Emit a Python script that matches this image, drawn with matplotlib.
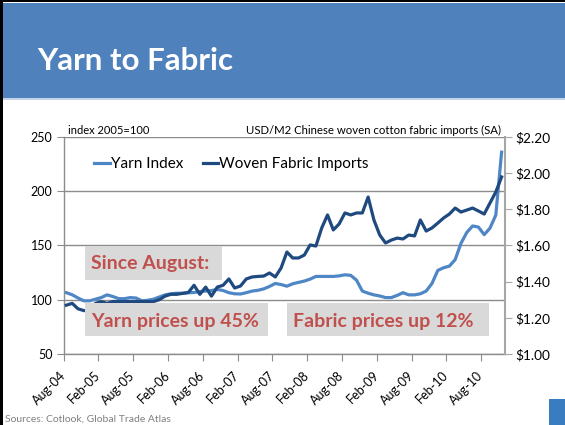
import matplotlib
matplotlib.use('Agg')
import matplotlib.pyplot as plt
from matplotlib.patches import Rectangle
from matplotlib.lines import Line2D
import numpy as np

plt.rcParams['font.family'] = ['Lato', 'DejaVu Sans']

# ---------------- data ----------------
tick_labels = ["Aug-04", "Feb-05", "Aug-05", "Feb-06", "Aug-06", "Feb-07", "Aug-07",
               "Feb-08", "Aug-08", "Feb-09", "Aug-09", "Feb-10", "Aug-10"]

# Yarn index (index 2005=100), monthly Aug-04 .. Nov-10
yarn_index = [106.5, 104.6, 101.6, 99, 99, 100.5, 102, 104.5, 103, 101,
              101, 102, 101.6, 99, 99.5, 100.5, 102.5, 104.5, 105.5, 106,
              106, 106.5, 106.7, 107.5, 108, 108.5, 109.5, 108.5, 106.5, 105.5,
              105.3, 106.5, 108, 108.7, 110, 112.3, 115, 114, 112.5, 114.7,
              116, 117.2, 119, 121.5, 121.5, 121.5, 121.5, 122, 123, 122.5,
              118, 108, 106, 104.5, 103.5, 102, 102, 104, 106.5, 104.5,
              104.5, 105.5, 108, 115, 127, 129.5, 131, 137, 152, 162,
              168, 167, 160, 166, 178, 236]

# Woven fabric imports, USD/M2
fabric_usd = [1.27, 1.28, 1.25, 1.24, 1.24, 1.28, 1.29, 1.28, 1.29, 1.29,
              1.29, 1.29, 1.29, 1.29, 1.29, 1.29, 1.30, 1.32, 1.33, 1.33,
              1.335, 1.34, 1.38, 1.33, 1.37, 1.32, 1.37, 1.38, 1.415, 1.365,
              1.376, 1.415, 1.426, 1.429, 1.431, 1.448, 1.426, 1.476, 1.564, 1.531,
              1.531, 1.547, 1.603, 1.597, 1.697, 1.769, 1.686, 1.719, 1.780, 1.769,
              1.780, 1.780, 1.868, 1.741, 1.658, 1.614, 1.630, 1.641, 1.636, 1.658,
              1.653, 1.741, 1.680, 1.697, 1.724, 1.752, 1.774, 1.807, 1.785, 1.796,
              1.807, 1.791, 1.774, 1.835, 1.896, 1.979]

left_ticks = [50, 100, 150, 200, 250]
right_ticks = [1.00, 1.20, 1.40, 1.60, 1.80, 2.00, 2.20]

# ---------------- figure ----------------
W, H = 565, 425
fig = plt.figure(figsize=(W / 100, H / 100), dpi=100)


def fx(x):
    return x / W


def fy(y):
    return 1 - y / H


def rect(x0, y0, x1, y1, **kw):
    r = Rectangle((fx(x0), fy(y1)), fx(x1) - fx(x0), fy(y0) - fy(y1),
                  transform=fig.transFigure, **kw)
    fig.add_artist(r)
    return r


# Slide decorations
rect(3, 3, 565, 98, facecolor='#4F81BD', edgecolor='none', zorder=1)
rect(3, 98, 565, 100, facecolor='#C5D3E6', edgecolor='none', zorder=1)
rect(0, 0, 3, 425, facecolor='black', edgecolor='none', zorder=1)
rect(0, 0, 565, 2, facecolor='black', edgecolor='none', zorder=1)
fig.text(fx(37), fy(61), 'Yarn to Fabric', color='white', fontweight='bold',
         fontsize=22.5, va='center', ha='left')

# ---------------- axes ----------------
ax = fig.add_axes([fx(63.5), fy(354), fx(504.5) - fx(63.5), fy(137) - fy(354)])
x = np.arange(len(yarn_index))
n = len(x)

yarn_color = '#4F86C6'
fabric_color = '#1F4A80'
grey = '#8C8C8C'

ax.plot(x, yarn_index, color=yarn_color, lw=2.3, solid_joinstyle='round')
ax.set_xlim(-0.5, n - 0.5)
ax.set_ylim(50, 250)
ax.set_yticks(left_ticks)
ax.set_yticklabels([str(v) for v in left_ticks])
ax.grid(axis='y', color=grey, lw=1)
ax.set_axisbelow(True)
xt = np.arange(0, n + 1, 6)[:len(tick_labels)] - 0.5
ax.set_xticks(xt)
ax.set_xticklabels(tick_labels, rotation=45, ha='right', va='center',
                   rotation_mode='anchor')
ax.tick_params(axis='x', direction='out', length=5, color=grey, labelsize=9, pad=9)
ax.tick_params(axis='y', direction='out', length=5, color=grey, labelsize=9, pad=3)
for s in ['top', 'right']:
    ax.spines[s].set_visible(False)
for s in ['left', 'bottom']:
    ax.spines[s].set_color(grey)
    ax.spines[s].set_linewidth(1)

ax2 = ax.twinx()
ax2.plot(x, fabric_usd, color=fabric_color, lw=2.3, solid_joinstyle='round')
ax2.set_ylim(1.0, 2.2)
ax2.set_yticks(right_ticks)
ax2.set_yticklabels(['${:.2f}'.format(v) for v in right_ticks])
ax2.tick_params(axis='y', direction='out', length=5, color='#A6A6A6', labelsize=9.8, pad=3)
for s in ['top', 'left', 'bottom']:
    ax2.spines[s].set_visible(False)
ax2.spines['right'].set_color('#A6A6A6')
ax2.spines['right'].set_linewidth(1.5)

handles = [Line2D([], [], color=yarn_color, lw=2.3), Line2D([], [], color=fabric_color, lw=2.3)]
ax2.legend(handles, ['Yarn Index', 'Woven Fabric Imports'], loc='center left',
           bbox_to_anchor=(0.056, 0.876), ncol=2, frameon=False, handlelength=1.0,
           handletextpad=0.1, columnspacing=1.25, fontsize=11, borderaxespad=0)

# axis captions
fig.text(fx(68), fy(130), 'index 2005=100', fontsize=8, va='center', ha='left')
fig.text(fx(501), fy(130), 'USD/M2 Chinese woven cotton fabric imports (SA)',
         fontsize=8.2, va='center', ha='right')

# call-out boxes
box_color = '#D9D9D9'
txt_color = '#C0504D'
rect(85, 246, 222, 280, facecolor=box_color, edgecolor='none', zorder=5)
rect(85, 303, 268, 336, facecolor=box_color, edgecolor='none', zorder=5)
rect(287, 303, 489, 336, facecolor=box_color, edgecolor='none', zorder=5)
fig.text(fx(91), fy(264), 'Since August:', color=txt_color, fontweight='bold',
         fontsize=14, va='center', ha='left', zorder=6)
fig.text(fx(91), fy(321), 'Yarn prices up 45%', color=txt_color, fontweight='bold',
         fontsize=14, va='center', ha='left', zorder=6)
fig.text(fx(293), fy(321), 'Fabric prices up 12%', color=txt_color, fontweight='bold',
         fontsize=14, va='center', ha='left', zorder=6)

# source line
fig.text(fx(5), fy(419), 'Sources: Cotlook, Global Trade Atlas', color='#808080',
         fontsize=7.5, va='center', ha='left')
# logo hint
rect(549, 399, 565, 425, facecolor='#3A7CC0', edgecolor='none', zorder=1)

fig.savefig('out.png', dpi=100)
